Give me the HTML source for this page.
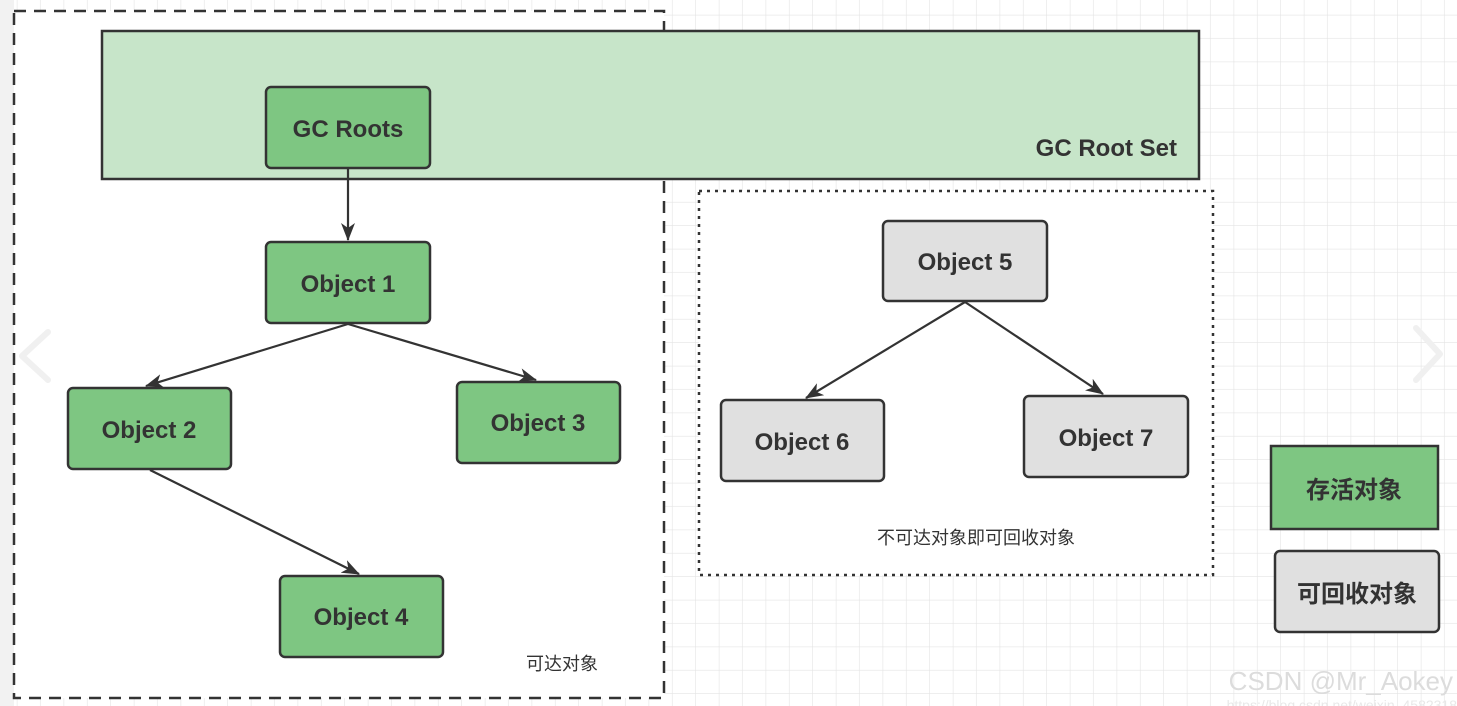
<!DOCTYPE html>
<html><head><meta charset="utf-8"><style>
html,body{margin:0;padding:0;background:#fff;}
svg{display:block;}
text{font-family:"Liberation Sans","Noto Sans CJK SC",sans-serif;}
</style></head><body>
<svg width="1457" height="706" viewBox="0 0 1457 706" xmlns="http://www.w3.org/2000/svg">
<defs>
<pattern id="g" x="-6" y="-8" width="23.4" height="23.4" patternUnits="userSpaceOnUse">
<path d="M23.4 0V23.4M0 23.4H23.4" stroke="#e4e4e4" stroke-width="1.2" fill="none"/>
</pattern>
<marker id="a" markerWidth="18" markerHeight="14" refX="17" refY="7" orient="auto" markerUnits="userSpaceOnUse">
<path d="M0,0 L18,7 L0,14 L5,7 Z" fill="#333"/>
</marker>
</defs>
<rect width="1457" height="706" fill="#fff"/>
<rect width="1457" height="706" fill="url(#g)"/>
<rect x="0" y="0" width="14" height="706" fill="#f2f2f2"/>
<rect x="14" y="11" width="650" height="687" fill="#fff" stroke="#333" stroke-width="2.5" stroke-dasharray="12,8"/>
<rect x="699" y="191" width="514" height="384" fill="#fff" stroke="#333" stroke-width="2.5" stroke-dasharray="3,5"/>
<rect x="102" y="31" width="1097" height="148" fill="#c7e5c9" stroke="#333" stroke-width="2.5"/>
<text x="1177" y="156" font-size="24" font-weight="bold" fill="#333" text-anchor="end">GC Root Set</text>

<g stroke="#333" stroke-width="2.2" fill="none" marker-end="url(#a)">
<line x1="348" y1="168" x2="348" y2="240"/>
<line x1="348" y1="324" x2="146" y2="386"/>
<line x1="348" y1="324" x2="536" y2="380"/>
<line x1="150" y1="470" x2="359" y2="574"/>
<line x1="965" y1="302" x2="806" y2="398"/>
<line x1="965" y1="302" x2="1103" y2="394"/>
</g>

<g stroke="#333" stroke-width="2.5">
<rect x="266" y="87" width="164" height="81" rx="5" fill="#7ec682"/>
<rect x="266" y="242" width="164" height="81" rx="5" fill="#7ec682"/>
<rect x="68" y="388" width="163" height="81" rx="5" fill="#7ec682"/>
<rect x="457" y="382" width="163" height="81" rx="5" fill="#7ec682"/>
<rect x="280" y="576" width="163" height="81" rx="5" fill="#7ec682"/>
<rect x="883" y="221" width="164" height="80" rx="5" fill="#e0e0e0"/>
<rect x="721" y="400" width="163" height="81" rx="5" fill="#e0e0e0"/>
<rect x="1024" y="396" width="164" height="81" rx="5" fill="#e0e0e0"/>
<rect x="1271" y="446" width="167" height="83" fill="#7ec682"/>
<rect x="1275" y="551" width="164" height="81" rx="5" fill="#e0e0e0"/>
</g>

<g font-size="24" font-weight="bold" fill="#333" text-anchor="middle">
<text x="348" y="137">GC Roots</text>
<text x="348" y="292">Object 1</text>
<text x="149" y="438">Object 2</text>
<text x="538" y="431">Object 3</text>
<text x="361" y="625">Object 4</text>
<text x="965" y="270">Object 5</text>
<text x="802" y="450">Object 6</text>
<text x="1106" y="446">Object 7</text>
<text x="1354" y="498">存活对象</text>
<text x="1357" y="602">可回收对象</text>
</g>
<g font-size="18" fill="#333" text-anchor="middle">
<text x="562" y="670">可达对象</text>
<text x="976" y="544">不可达对象即可回收对象</text>
</g>

<path d="M48 332 L22 356 L48 380" stroke="#f0f0f0" stroke-width="6" fill="none" stroke-linecap="round" stroke-linejoin="round"/>
<path d="M1416 328 L1440 354 L1416 380" stroke="#f0f0f0" stroke-width="6" fill="none" stroke-linecap="round" stroke-linejoin="round"/>
<text x="1453" y="690" font-size="26" fill="#dcdcdc" text-anchor="end">CSDN @Mr_Aokey</text>
<text x="1457" y="710" font-size="14" fill="#e8e8e8" text-anchor="end">https://blog.csdn.net/weixin_4582318</text>
</svg>
</body></html>
